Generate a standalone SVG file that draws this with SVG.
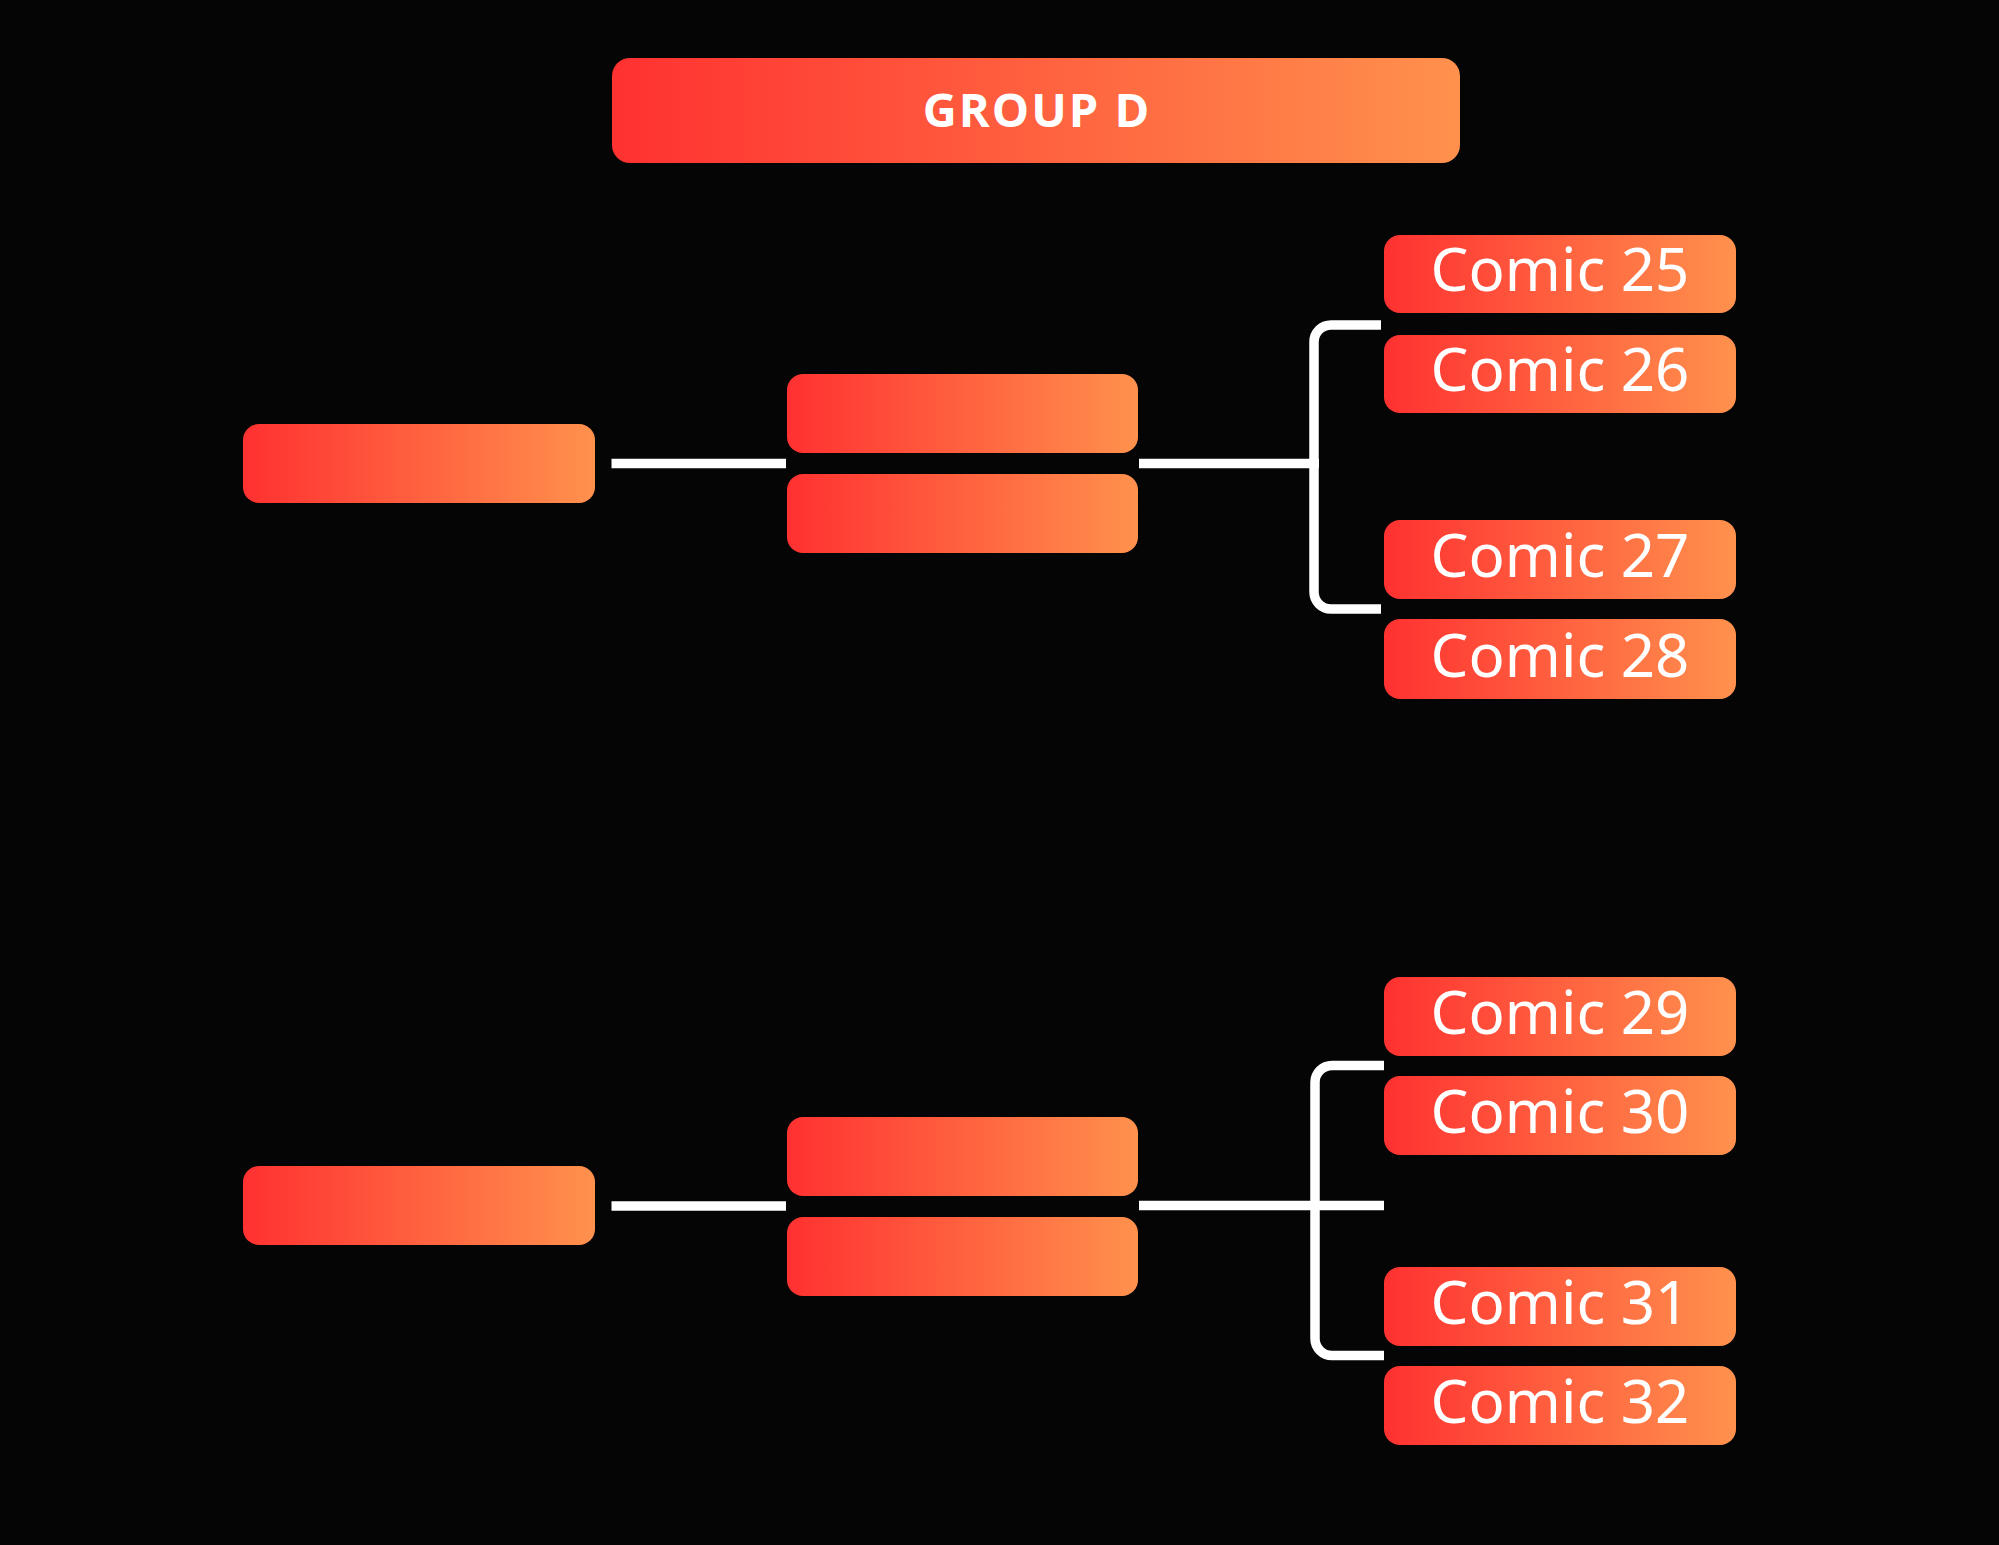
<svg xmlns="http://www.w3.org/2000/svg" width="1999" height="1545" viewBox="0 0 1999 1545">
<defs>
<linearGradient id="g" x1="0" y1="0" x2="1" y2="0">
<stop offset="0" stop-color="#ff3131"/>
<stop offset="1" stop-color="#ff914d"/>
</linearGradient>
<style>
.box{fill:url(#g)}
.lbl{font-family:"Noto Sans","Open Sans",sans-serif;font-size:60px;fill:#ffffff;text-anchor:middle}
.hdr{font-family:"Open Sans","Noto Sans",sans-serif;font-weight:700;font-size:47px;fill:#ffffff;text-anchor:middle;letter-spacing:2px}
.ln{stroke:#ffffff;stroke-width:9.5;fill:none}
</style>
</defs>
<rect width="1999" height="1545" fill="#050505"/>
<g id="header"><rect class="box" x="612" y="58" width="848" height="105" rx="18"/><text class="hdr" x="1037" y="127">GROUP D</text></g>
<g id="connectors">
<line class="ln" x1="611.5" y1="463.5" x2="786" y2="463.5"/>
<line class="ln" x1="1139" y1="463.5" x2="1319" y2="463.5"/>
<path class="ln" d="M1381,325 H1331 A17,17 0 0 0 1314,342 V592 A17,17 0 0 0 1331,609 H1381"/>
<line class="ln" x1="611.5" y1="1206" x2="786" y2="1206"/>
<line class="ln" x1="1139" y1="1205.5" x2="1384" y2="1205.5"/>
<path class="ln" d="M1384,1065.5 H1332 A17,17 0 0 0 1315,1082.5 V1338.5 A17,17 0 0 0 1332,1355.5 H1384"/>
</g>
<g id="left1"><rect class="box" x="243" y="424" width="352" height="79" rx="16"/></g>
<g id="mid1"><rect class="box" x="787" y="374" width="351" height="79" rx="16"/></g>
<g id="mid2"><rect class="box" x="787" y="474" width="351" height="79" rx="16"/></g>
<g id="left2"><rect class="box" x="243" y="1166" width="352" height="79" rx="16"/></g>
<g id="mid3"><rect class="box" x="787" y="1117" width="351" height="79" rx="16"/></g>
<g id="mid4"><rect class="box" x="787" y="1217" width="351" height="79" rx="16"/></g>
<g id="comic25"><rect class="box" x="1384" y="235" width="352" height="78" rx="16"/><text class="lbl" x="1560" y="291">Comic 25</text></g>
<g id="comic26"><rect class="box" x="1384" y="335" width="352" height="78" rx="16"/><text class="lbl" x="1560" y="391">Comic 26</text></g>
<g id="comic27"><rect class="box" x="1384" y="520" width="352" height="79" rx="16"/><text class="lbl" x="1560" y="577">Comic 27</text></g>
<g id="comic28"><rect class="box" x="1384" y="619" width="352" height="80" rx="16"/><text class="lbl" x="1560" y="677">Comic 28</text></g>
<g id="comic29"><rect class="box" x="1384" y="977" width="352" height="79" rx="16"/><text class="lbl" x="1560" y="1034">Comic 29</text></g>
<g id="comic30"><rect class="box" x="1384" y="1076" width="352" height="79" rx="16"/><text class="lbl" x="1560" y="1133">Comic 30</text></g>
<g id="comic31"><rect class="box" x="1384" y="1267" width="352" height="79" rx="16"/><text class="lbl" x="1560" y="1324">Comic 31</text></g>
<g id="comic32"><rect class="box" x="1384" y="1366" width="352" height="79" rx="16"/><text class="lbl" x="1560" y="1423">Comic 32</text></g>
</svg>
